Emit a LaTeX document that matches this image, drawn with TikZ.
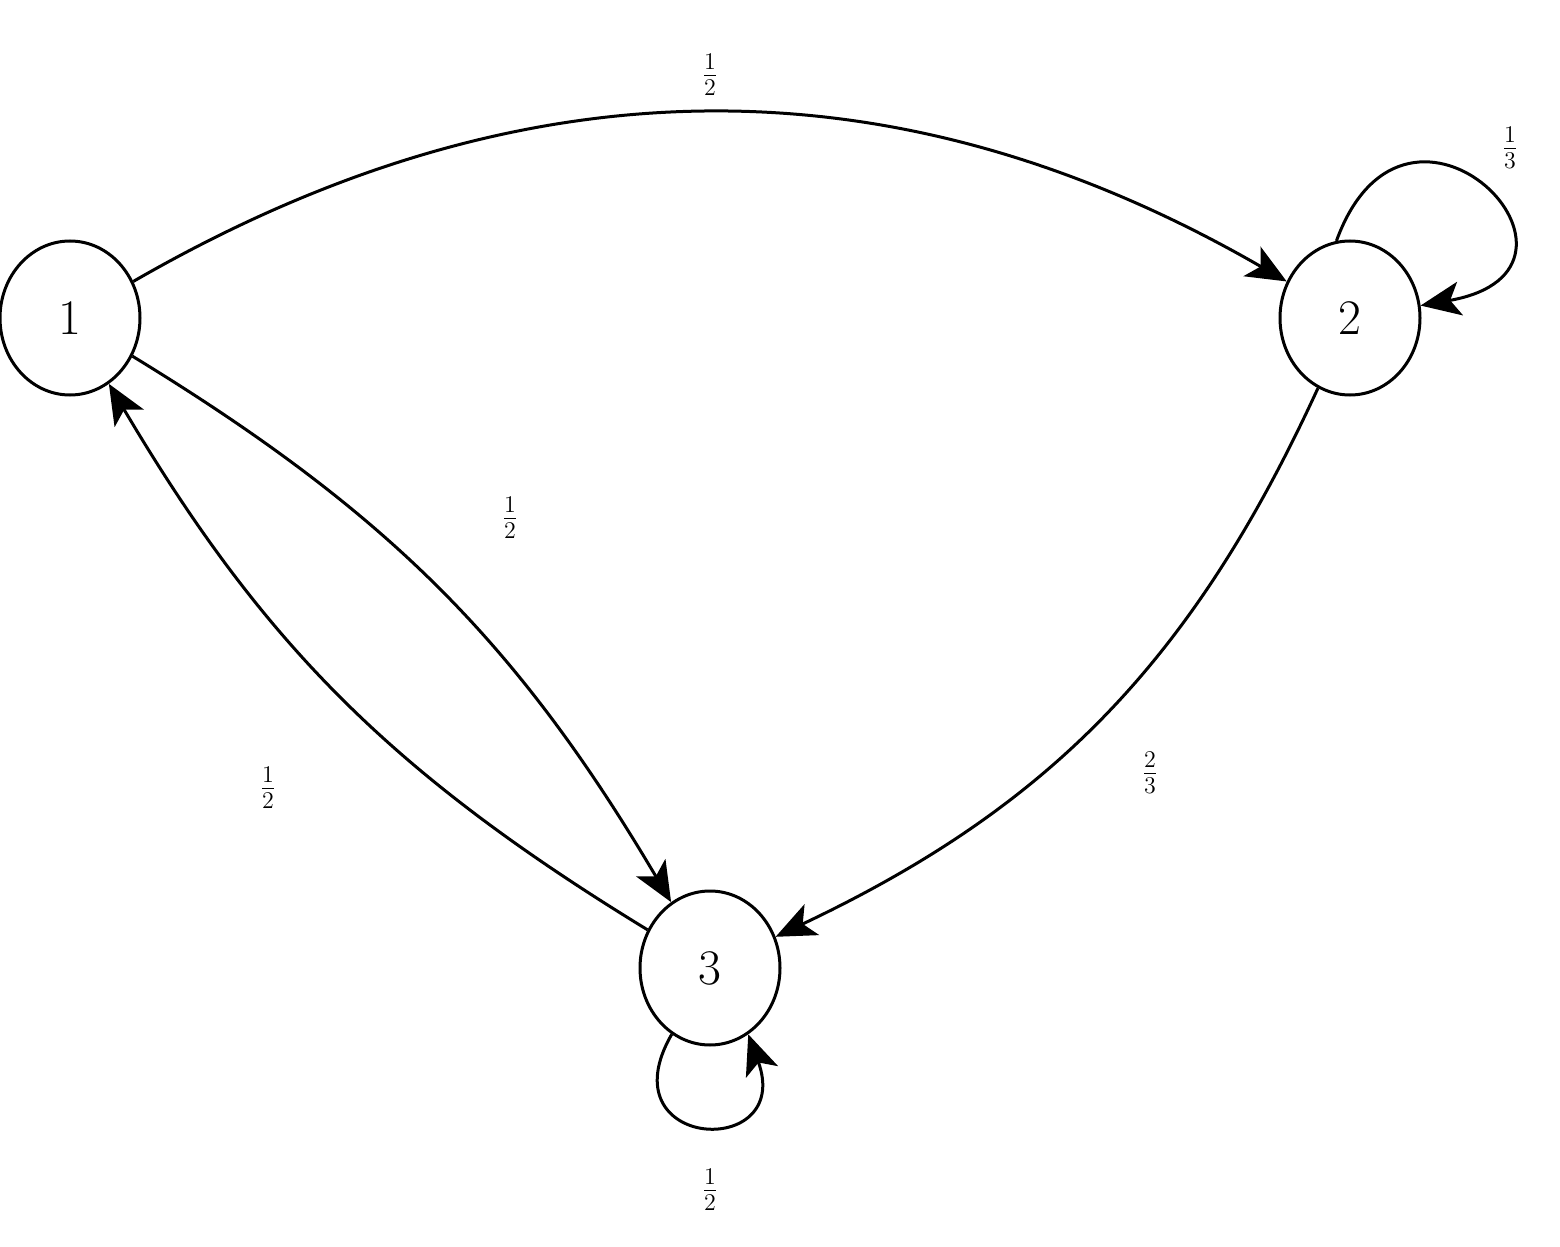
\documentclass[tikz,border=0pt]{standalone}
\usetikzlibrary{arrows.meta,shapes.geometric}
\begin{document}
\begin{tikzpicture}[x=0.5pt,y=-0.5pt,
  st/.style={draw,ellipse,line width=1.5pt,minimum width=70pt,minimum height=77pt,inner sep=0pt,font=\fontsize{34}{38}\selectfont},
  ed/.style={line width=1.5pt,-{Stealth[length=20pt,width=17pt,inset=5pt]}},
  lb/.style={font=\fontsize{18}{20}\selectfont}]
\useasboundingbox (0,0) rectangle (1560,1247);
\node[st] (n1) at (70,318) {$1$};
\node[st] (n2) at (1350,318) {$2$};
\node[st] (n3) at (710,968) {$3$};
\draw[ed] (n1) to[bend left=30] (n2);
\draw[ed] (n1) to[bend left=14] (n3);
\draw[ed] (n3) to[bend left=14] (n1);
\draw[ed] (n2) to[bend left=20] (n3);
\draw[ed] (n2.100) to[out=70,in=10,looseness=5] (n2.10);
\draw[ed] (n3.240) to[out=240,in=290,looseness=4.5] (n3.-60);
\node[lb] (l12) at (710,75) {$\frac{1}{2}$};
\node[lb] (l22) at (1510,148) {$\frac{1}{3}$};
\node[lb] (l13) at (510,518) {$\frac{1}{2}$};
\node[lb] (l31) at (268,788) {$\frac{1}{2}$};
\node[lb] (l23) at (1150,773) {$\frac{2}{3}$};
\node[lb] (l33) at (710,1190) {$\frac{1}{2}$};
\end{tikzpicture}
\end{document}
